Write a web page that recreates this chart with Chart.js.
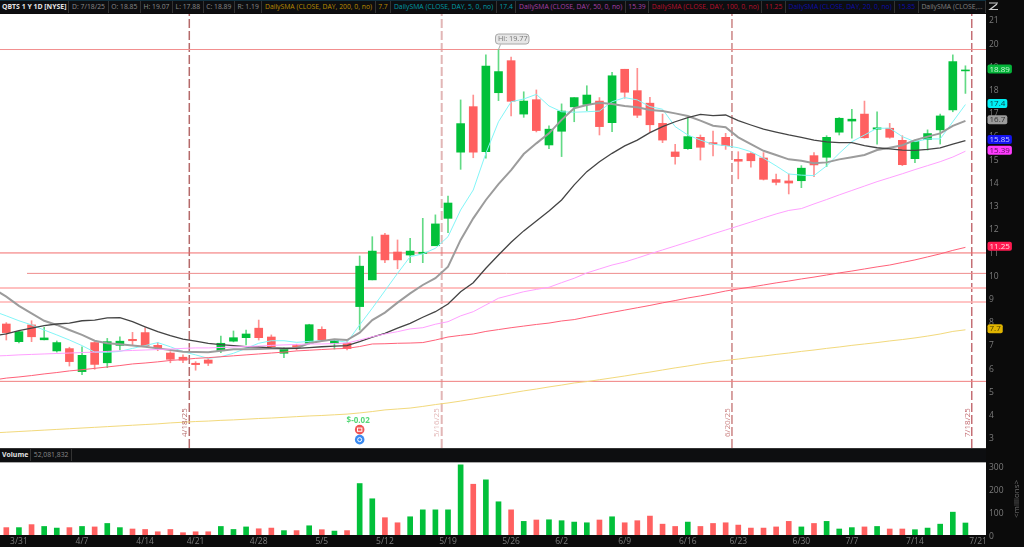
<!DOCTYPE html>
<html>
<head>
<meta charset="utf-8">
<title>QBTS 1 Y 1D</title>
<style>
    html, body { margin: 0; padding: 0; width: 1024px; height: 547px; overflow: hidden; background: #0b0b0b; }
    body { position: relative; font-family: "Open Sans", sans-serif; }
    canvas { position: absolute; left: 0; }
    #priceChart { top: 14px; }
    #volumeChart { top: 463px; }
    .bar { position: absolute; left: 0; display: flex; background: #0d0e10; color: #8a8a8a; font-size: 6.8px; white-space: nowrap; }
    .bar span { display: block; padding: 0 2.6px; line-height: 12px; height: 12px; border-right: 1px solid #333; }
    .bar b { color: #e4e4e4; font-weight: 700; font-size: 6.9px; }
    #topBar { top: 1px; height: 12px; width: 986px; border-top: 1px solid #10303f; margin-top: -1px; }
    #volumeBar { top: 449px; width: 986px; height: 13px; border-bottom: 1px solid #aaa; border-top: 1px solid #333; margin-top: -1px; }
    #zoomIcon { position: absolute; left: 988px; top: 2px; }
</style>
</head>
<body>
<div id="topBar" class="bar">
    <span style="padding:0 2px"><b>QBTS 1 Y 1D [NYSE]</b></span><span>D: 7/18/25</span><span>O: 18.85</span><span>H: 19.07</span><span>L: 17.88</span><span>C: 18.89</span><span>R: 1.19</span>
    <span style="color:#b98a00">DailySMA (CLOSE, DAY, 200, 0, no)</span><span style="color:#b98a00">7.7</span>
    <span style="color:#009aa5">DailySMA (CLOSE, DAY, 5, 0, no)</span><span style="color:#009aa5">17.4</span>
    <span style="color:#a63fa8">DailySMA (CLOSE, DAY, 50, 0, no)</span><span style="color:#a63fa8">15.39</span>
    <span style="color:#b80f2e">DailySMA (CLOSE, DAY, 100, 0, no)</span><span style="color:#b80f2e">11.25</span>
    <span style="color:#0c0ca8">DailySMA (CLOSE, DAY, 20, 0, no)</span><span style="color:#0c0ca8">15.85</span>
    <span style="color:#808080">DailySMA (CLOSE,...</span>
</div>
<svg id="zoomIcon" width="11" height="9" viewBox="0 0 11 9"><path d="M1 1H10M9 2L2 7.5H10" fill="none" stroke="#cfcfcf" stroke-width="1.2"/></svg>
<canvas id="priceChart" width="1024" height="434"></canvas>
<div id="volumeBar" class="bar"><span style="padding:0 2px"><b>Volume</b></span><span>52,081,832</span></div>
<canvas id="volumeChart" width="1024" height="84"></canvas>

<script src="https://cdn.jsdelivr.net/npm/chart.js@4/dist/chart.umd.min.js"></script>
<script>
const opens = [7.95,7.19,7.91,7.27,6.79,6.89,5.90,7.15,6.28,7.03,7.29,7.58,7.03,6.70,6.52,6.26,6.40,6.80,7.21,7.36,7.77,7.39,6.69,7.02,7.12,7.72,7.10,7.12,8.70,9.85,11.78,11.05,10.92,10.99,11.32,12.50,15.35,17.31,15.37,17.91,19.29,16.99,17.61,15.66,16.25,17.30,17.41,17.55,16.62,18.92,18.00,17.46,16.59,15.36,15.50,15.99,15.76,15.99,15.04,15.29,15.10,14.17,14.11,14.12,15.20,15.13,16.21,16.69,16.99,16.34,16.38,15.86,15.07,15.89,16.31,17.17,18.85];
const highs = [8.01,7.62,8.09,7.81,7.22,6.95,6.97,7.19,7.33,7.40,7.59,7.79,7.15,6.76,6.62,6.33,6.46,7.43,7.65,7.69,8.12,7.48,6.93,7.08,7.94,7.83,7.29,7.19,10.88,11.71,11.86,11.57,11.64,12.50,12.65,13.46,17.60,17.81,19.54,19.77,19.44,17.95,18.03,16.48,17.43,17.70,18.21,17.70,18.79,18.92,18.96,17.71,16.99,15.69,16.81,16.09,16.26,16.16,15.37,15.33,15.33,14.41,14.41,14.77,15.33,16.06,16.84,17.20,17.55,17.09,16.59,16.06,15.87,16.31,16.99,19.54,19.07];
const lows = [7.26,7.13,7.19,7.26,6.74,6.14,5.77,6.00,6.07,6.83,7.05,6.97,6.80,6.28,6.28,5.96,6.16,6.71,7.18,7.05,7.26,6.90,6.50,6.83,7.09,7.22,6.87,6.83,7.69,9.85,10.59,10.33,10.59,10.59,11.32,11.88,14.61,15.11,15.09,17.57,16.91,16.85,16.22,15.50,15.16,16.66,17.14,16.09,16.23,17.67,16.84,16.23,15.76,14.83,15.47,15.01,15.19,15.47,14.20,14.70,14.15,13.94,13.55,13.82,14.29,14.73,16.09,15.95,15.95,15.69,15.95,14.77,14.90,15.44,15.70,17.09,17.88];
const closes = [7.58,7.62,7.40,7.35,7.15,6.33,6.60,6.21,7.19,7.21,7.23,7.02,6.93,6.43,6.39,6.20,6.26,7.12,7.36,7.52,7.36,6.97,6.86,6.95,7.92,7.26,7.25,6.89,10.44,11.09,10.71,10.71,11.09,11.04,12.26,13.16,16.58,15.35,19.06,18.82,17.54,17.55,16.28,16.34,17.12,17.70,17.81,16.45,18.64,17.93,16.94,16.53,15.87,15.16,16.02,15.56,15.70,15.63,14.96,14.98,14.18,14.05,14.02,14.66,14.80,15.99,16.81,16.77,15.97,16.40,15.99,14.81,15.83,16.15,16.91,19.25,18.89];
const volumes = [32,32,45,37,30,32,37,35,50,32,26,24,14,24,10,14,14,37,24,35,27,30,19,19,40,23,17,19,223,157,75,53,79,109,109,109,304,220,239,144,109,59,65,66,62,56,53,65,79,53,62,82,47,37,56,37,50,53,43,30,30,35,59,35,50,59,26,32,35,37,26,26,23,30,47,99,52];

// moving averages, the first value of each sits one bar before the first candle
const sma5 = [8.50,8.30,8.09,7.91,7.69,7.48,7.26,7.02,6.74,6.73,6.77,6.90,7.02,7.15,6.97,6.76,6.62,6.47,6.54,6.69,6.90,7.12,7.23,7.23,7.16,7.20,7.23,7.25,7.16,7.91,8.63,9.38,10.13,10.85,10.97,11.21,11.71,12.86,13.72,15.30,16.66,17.52,17.64,17.84,17.34,17.09,17.07,17.09,17.12,17.52,17.70,17.60,17.31,17.20,16.45,16.09,15.87,15.69,15.63,15.54,15.37,15.09,14.76,14.41,14.36,14.34,14.76,15.30,15.80,16.09,16.38,16.38,16.02,15.80,15.92,15.92,16.66,17.40];
const sma10 = [9.46,9.13,8.73,8.41,8.09,7.91,7.69,7.48,7.23,7.12,7.08,7.02,6.97,6.90,6.83,6.76,6.74,6.73,6.80,6.86,6.86,6.87,6.89,6.89,6.92,7.12,7.22,7.29,7.26,7.58,8.12,8.44,8.87,9.27,9.63,9.92,10.42,11.57,12.50,13.29,13.97,14.58,15.27,15.73,16.16,16.74,17.24,17.38,17.48,17.42,17.34,17.28,17.17,17.12,17.02,16.91,16.71,16.49,16.42,15.99,15.70,15.41,15.23,15.04,14.98,14.87,14.91,15.04,15.13,15.23,15.44,15.54,15.65,15.87,16.02,16.16,16.48,16.70];
const sma20 = [7.44,7.52,7.66,7.77,7.88,7.95,7.99,8.09,8.12,8.21,8.22,8.05,7.83,7.62,7.45,7.30,7.21,7.12,7.06,7.02,6.97,6.96,6.92,6.90,6.90,6.93,6.97,7.00,7.02,7.19,7.38,7.55,7.77,7.98,8.24,8.48,8.81,9.34,9.73,10.35,10.92,11.47,11.96,12.39,12.82,13.29,13.94,14.51,14.94,15.30,15.62,15.87,16.19,16.45,16.66,16.84,16.98,16.92,16.95,16.71,16.52,16.34,16.21,16.09,15.99,15.87,15.79,15.76,15.76,15.63,15.54,15.49,15.44,15.43,15.47,15.53,15.70,15.85];
const sma50 = [6.57,6.59,6.62,6.64,6.66,6.68,6.70,6.72,6.74,6.77,6.79,6.81,6.83,6.85,6.87,6.90,6.92,6.92,6.94,6.96,6.98,7.00,7.03,7.05,7.07,7.09,7.09,7.11,7.13,7.26,7.40,7.52,7.62,7.74,7.79,7.94,8.05,8.30,8.48,8.77,9.06,9.20,9.34,9.44,9.53,9.73,9.92,10.15,10.32,10.49,10.62,10.79,10.97,11.14,11.31,11.48,11.65,11.83,12.00,12.17,12.34,12.52,12.69,12.84,12.92,13.12,13.31,13.51,13.70,13.89,14.08,14.25,14.42,14.60,14.77,14.94,15.14,15.39];
const sma100 = [5.54,5.62,5.67,5.73,5.80,5.86,5.93,5.98,6.04,6.10,6.16,6.23,6.27,6.32,6.38,6.42,6.47,6.50,6.54,6.58,6.62,6.66,6.70,6.74,6.79,6.82,6.85,6.88,6.90,6.98,7.09,7.10,7.12,7.13,7.15,7.26,7.39,7.46,7.52,7.63,7.71,7.79,7.86,7.93,7.99,8.08,8.14,8.25,8.35,8.45,8.55,8.65,8.75,8.86,8.96,9.07,9.16,9.26,9.37,9.46,9.54,9.63,9.72,9.80,9.89,9.97,10.06,10.15,10.23,10.32,10.41,10.49,10.60,10.71,10.84,10.97,11.12,11.25];
const sma200 = [3.26,3.29,3.32,3.35,3.38,3.41,3.44,3.47,3.50,3.53,3.56,3.59,3.62,3.65,3.69,3.72,3.75,3.77,3.80,3.82,3.85,3.88,3.90,3.93,3.96,3.99,4.01,4.04,4.07,4.12,4.18,4.25,4.29,4.33,4.40,4.48,4.55,4.63,4.72,4.81,4.89,4.98,5.07,5.15,5.24,5.32,5.41,5.47,5.55,5.63,5.71,5.80,5.88,5.97,6.06,6.14,6.23,6.31,6.38,6.44,6.51,6.57,6.64,6.70,6.77,6.83,6.90,6.96,7.03,7.09,7.15,7.22,7.28,7.35,7.43,7.52,7.63,7.70];

const dateTickBars = [1,6,11,15,20,25,30,35,40,44,49,54,58,63,67,72,77];
const dateTickLabels = ['3/31','4/7','4/14','4/21','4/28','5/5','5/12','5/19','5/26','6/2','6/9','6/16','6/23','6/30','7/7','7/14','7/21'];
const priceTicks = [3,4,5,6,7,8,9,10,11,12,13,14,15,16,17,18,19,20,21];
const volumeTicks = [0,100,200,300];

const levelPrices = [19.77,11.01,10.13,9.50,8.90,5.48];
const levelStarts = [-0.5,-0.5,1.64,-0.5,-0.5,-0.5];
const levelColors = ['#f28f8f','#f26c6c','#ee8d8d','#ffc0c0','#ffb2b2','#f07f7f'];
const levelWidths = [1,1,1,2,1.5,1];

const eventBars = [14.5,34.5,57.5,76.5];
const eventLabels = ['4/18/25','5/16/25','6/20/25','7/18/25'];
const eventColors = ['#b56a6a','#e2b6b6','#cb8484','#c46e74'];

const badgeValues = [18.89,17.4,16.7,15.85,15.39,11.25,7.7];
const badgeColors = ['#05b53a','#00f0f5','#9c9c9c','#1414f0','#ff3cff','#ff1a50','#e0b400'];
const badgeText = ['#c9f5d5','#084a4e','#333333','#c8c8ff','#5a105a','#ffd9e0','#4a3c00'];

const GREEN = '#02c03a';
const RED = '#ff6060';
const GREEN_WICK = '#62da85';
const RED_WICK = '#ff9090';
const FIRST = -0.5;
const LAST = 77.63;
const axisFont = { family: "'Open Sans', sans-serif", size: 8.5 };

function barColor(ctx) {
    const i = ctx.dataIndex;
    return closes[i] >= opens[i] ? GREEN : RED;
}

function wickColor(ctx) {
    const i = ctx.dataIndex;
    return closes[i] >= opens[i] ? GREEN_WICK : RED_WICK;
}

function smaLine(values, color, width) {
    return {
        type: 'line',
        data: values.map((v, i) => ({ x: i - 1, y: v })),
        borderColor: color,
        borderWidth: width,
        pointRadius: 0,
        tension: 0,
        order: 1
    };
}

// keep the plot flush with the canvas edges, labels may overhang
function noPadding(axis) {
    axis.paddingTop = 0;
    axis.paddingBottom = 0;
    axis.paddingLeft = 0;
    axis.paddingRight = 0;
}

function xAxis(show) {
    return {
        type: 'linear',
        offset: false,
        min: FIRST,
        max: LAST,
        display: show,
        grid: { display: false, drawTicks: false },
        border: { display: false },
        afterBuildTicks: axis => { axis.ticks = dateTickBars.map(v => ({ value: v })); },
        afterFit: axis => {
            if (show) axis.height = 12;
            noPadding(axis);
        },
        ticks: {
            autoSkip: false,
            maxRotation: 0,
            padding: 1.5,
            color: '#7c7c7c',
            font: axisFont,
            callback: value => dateTickLabels[dateTickBars.indexOf(value)]
        }
    };
}

function yAxis(min, max, tickValues, labelOffset) {
    return {
        position: 'right',
        min: min,
        max: max,
        grid: { display: false, drawTicks: false },
        border: { display: false },
        afterBuildTicks: axis => { axis.ticks = tickValues.map(v => ({ value: v })); },
        afterFit: axis => {
            axis.width = 38;
            noPadding(axis);
        },
        ticks: { padding: 3, color: '#7c7c7c', font: axisFont, autoSkip: false, labelOffset: labelOffset }
    };
}

const whitePlot = {
    id: 'whitePlot',
    beforeDraw(chart) {
        const a = chart.chartArea;
        chart.ctx.fillStyle = '#ffffff';
        chart.ctx.fillRect(a.left, a.top, a.right - a.left, a.bottom - a.top);
    }
};

function roundBox(ctx, x, y, w, h, r) {
    ctx.beginPath();
    ctx.roundRect(x, y, w, h, r);
}

const priceNotes = {
    id: 'priceNotes',
    afterDatasetsDraw(chart) {
        const { ctx, scales } = chart;
        const x = scales.x;
        const y = scales.y;
        ctx.save();
        ctx.textBaseline = 'middle';

        // rotated dates next to the dashed lines
        ctx.font = "8px 'Open Sans', sans-serif";
        eventBars.forEach((bar, i) => {
            ctx.save();
            ctx.translate(x.getPixelForValue(bar) - 4.5, 423);
            ctx.rotate(-Math.PI / 2);
            ctx.fillStyle = eventColors[i];
            ctx.textAlign = 'left';
            ctx.fillText(eventLabels[i], 0, 0);
            ctx.restore();
        });

        // high callout
        const hiX = x.getPixelForValue(39);
        const hiY = y.getPixelForValue(19.77);
        ctx.strokeStyle = '#a8a8a8';
        ctx.lineWidth = 1;
        ctx.beginPath();
        ctx.moveTo(hiX, hiY);
        ctx.lineTo(hiX + 2, hiY - 5);
        ctx.stroke();
        roundBox(ctx, hiX - 3, hiY - 15.5, 33.5, 10, 3);
        ctx.fillStyle = '#e6e6e6';
        ctx.fill();
        ctx.stroke();
        ctx.fillStyle = '#777777';
        ctx.textAlign = 'left';
        ctx.font = "7.3px 'Open Sans', sans-serif";
        ctx.fillText('Hi: 19.77', hiX - 0.5, hiY - 10.5);

        // earnings and dividend marks on the 5/8 bar
        const markX = x.getPixelForValue(28);
        const earnY = y.getPixelForValue(3.4);
        const divY = y.getPixelForValue(2.97);
        ctx.textAlign = 'center';
        ctx.font = "bold 8px 'Open Sans', sans-serif";
        ctx.fillStyle = '#55d877';
        ctx.fillText('$-0.02', markX - 1.5, earnY - 8.5);
        ctx.fillStyle = '#f05454';
        ctx.beginPath();
        ctx.arc(markX, earnY, 4.8, 0, Math.PI * 2);
        ctx.fill();
        ctx.fillStyle = '#3a8af0';
        ctx.beginPath();
        ctx.arc(markX, divY, 4.8, 0, Math.PI * 2);
        ctx.fill();
        ctx.strokeStyle = '#ffffff';
        ctx.strokeRect(markX - 2.2, earnY - 1.6, 4.4, 3.2);
        ctx.beginPath();
        ctx.arc(markX, divY, 2, 0, Math.PI * 2);
        ctx.stroke();

        // last value badges on the price axis
        ctx.textAlign = 'left';
        ctx.font = "8px 'Open Sans', sans-serif";
        badgeValues.forEach((v, i) => {
            const label = String(v);
            const by = y.getPixelForValue(v) - 1;
            const w = ctx.measureText(label).width + 4;
            roundBox(ctx, 987.5, by - 4.5, w, 9, 2);
            ctx.fillStyle = badgeColors[i];
            ctx.fill();
            ctx.fillStyle = badgeText[i];
            ctx.fillText(label, 989.5, by + 0.3);
        });
        ctx.restore();
    }
};

const volumeNotes = {
    id: 'volumeNotes',
    afterDraw(chart) {
        const ctx = chart.ctx;
        ctx.save();
        ctx.translate(1017, 36);
        ctx.rotate(-Math.PI / 2);
        ctx.fillStyle = '#6e6e6e';
        ctx.font = "8px 'Open Sans', sans-serif";
        ctx.textAlign = 'center';
        ctx.textBaseline = 'middle';
        ctx.fillText('<millions>', 0, 0);
        ctx.restore();
    }
};

const levelSets = levelPrices.map((price, i) => ({
    type: 'line',
    data: [{ x: levelStarts[i], y: price }, { x: LAST, y: price }],
    borderColor: levelColors[i],
    borderWidth: levelWidths[i],
    pointRadius: 0,
    order: 4
}));

const eventSets = eventBars.map((bar, i) => ({
    type: 'line',
    data: [{ x: bar, y: 2.61 }, { x: bar, y: 21.3 }],
    borderColor: eventColors[i],
    borderWidth: i === 1 ? 2 : 1.5,
    borderDash: [9, 3],
    pointRadius: 0,
    order: 5
}));

new Chart(document.getElementById('priceChart'), {
    type: 'bar',
    data: {
        datasets: [
            {
                data: lows.map((low, i) => ({ x: i, y: [low, highs[i]] })),
                backgroundColor: wickColor,
                barThickness: 1,
                grouped: false,
                order: 3
            },
            {
                data: opens.map((open, i) => ({ x: i, y: [open, closes[i]] })),
                backgroundColor: barColor,
                barThickness: 8,
                grouped: false,
                order: 2
            },
            smaLine(sma200, '#f2d97c', 1),
            smaLine(sma100, '#ff6179', 1),
            smaLine(sma50, '#ffa0ff', 1),
            smaLine(sma20, '#444444', 1.3),
            smaLine(sma10, '#9c9c9c', 2),
            smaLine(sma5, '#82f6f8', 1),
            ...levelSets,
            ...eventSets
        ]
    },
    options: {
        responsive: false,
        animation: false,
        layout: { padding: 0, autoPadding: false },
        plugins: { legend: { display: false }, tooltip: { enabled: false } },
        scales: { x: xAxis(false), y: yAxis(2.61, 21.3, priceTicks, 0) }
    },
    plugins: [whitePlot, priceNotes]
});

new Chart(document.getElementById('volumeChart'), {
    type: 'bar',
    data: {
        datasets: [{
            data: volumes.map((v, i) => ({ x: i, y: v })),
            backgroundColor: barColor,
            barThickness: 5
        }]
    },
    options: {
        responsive: false,
        animation: false,
        layout: { padding: 0, autoPadding: false },
        plugins: { legend: { display: false }, tooltip: { enabled: false } },
        scales: { x: xAxis(true), y: yAxis(0, 312, volumeTicks, 2) }
    },
    plugins: [whitePlot, volumeNotes]
});
</script>
</body>
</html>
